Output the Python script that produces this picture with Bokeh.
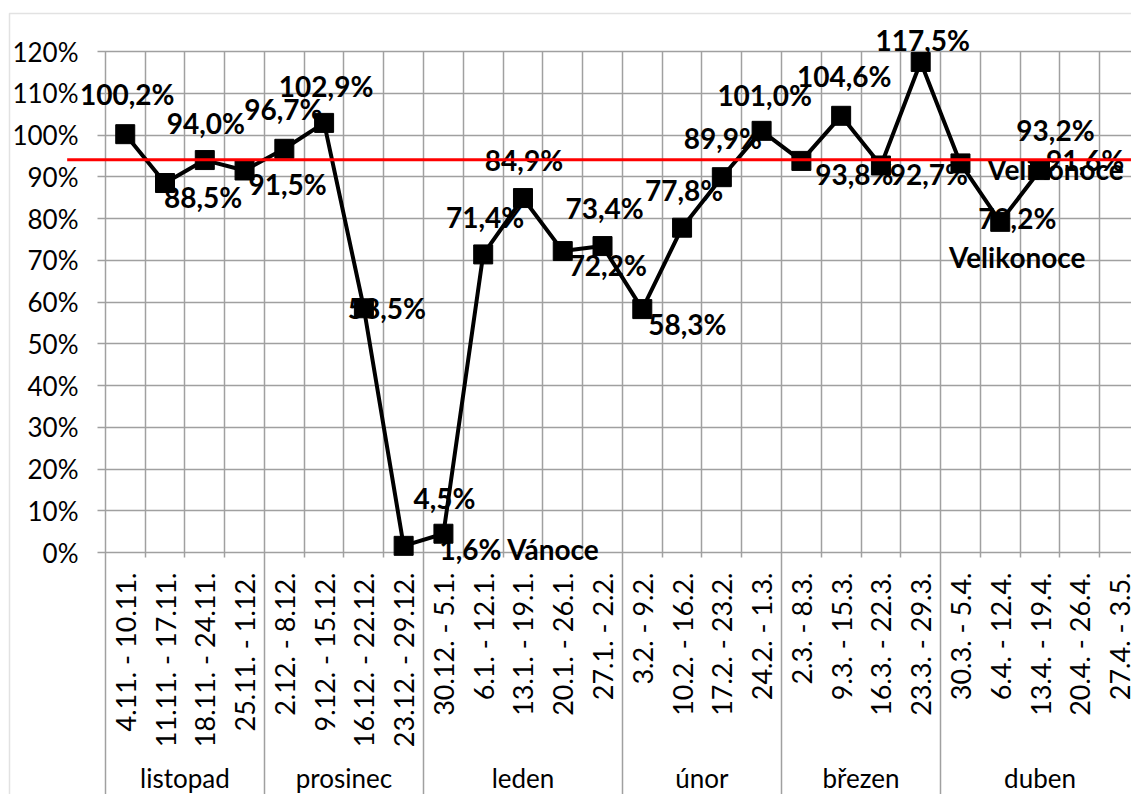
import math
from bokeh.plotting import figure
from bokeh.models import (ColumnDataSource, Range1d, FixedTicker, PrintfTickFormatter,
                          Grid, BoxAnnotation)
from bokeh.core.properties import value
from bokeh.embed import file_html
from bokeh.resources import INLINE

# ---------------- data ----------------
months = ["listopad", "prosinec", "leden", "únor", "březen", "duben"]
weeks_per_month = [4, 4, 5, 4, 4, 5]
weeks = ["4.11. - 10.11.", "11.11. - 17.11.", "18.11. - 24.11.", "25.11. - 1.12.",
         "2.12. - 8.12.", "9.12. - 15.12.", "16.12. - 22.12.", "23.12. - 29.12.",
         "30.12. - 5.1.", "6.1. - 12.1.", "13.1. - 19.1.", "20.1. - 26.1.", "27.1. - 2.2.",
         "3.2. - 9.2.", "10.2. - 16.2.", "17.2. - 23.2.", "24.2. - 1.3.",
         "2.3. - 8.3.", "9.3. - 15.3.", "16.3. - 22.3.", "23.3. - 29.3.",
         "30.3. - 5.4.", "6.4. - 12.4.", "13.4. - 19.4.", "20.4. - 26.4.", "27.4. - 3.5."]
values = [100.2, 88.5, 94.0, 91.5, 96.7, 102.9, 58.5, 1.6, 4.5, 71.4, 84.9, 72.2, 73.4,
          58.3, 77.8, 89.9, 101.0, 93.8, 104.6, 92.7, 117.5, 93.2, 79.2, 91.6]
notes = {7: ("Vánoce", " "), 21: ("Velikonoce", "\n"), 22: ("Velikonoce", "\n")}
target = 94.1
y_ticks = list(range(0, 121, 10))

# ---------------- label placement (style, px) ----------------
label_dx = [2, 38, 1, 43, -1, 2, 23, 116, 1, 2, 1, 45, 2, 45, 2, 1, 3, 53, 3, 48, 2, 95, 17, 45]
label_dy = [-40, 14, -37, 14, -40, -37, 0, 3, -36, -37, -38, 14, -38, 15, -38, -39, -36, 13,
            -40, 9, -22, -14, 16, -10]

GRID = "#a0a0a0"
FONT = "Lato"

def fmt(v):
    return f"{v:.1f}".replace(".", ",") + "%"

labels = []
for i, v in enumerate(values):
    t = fmt(v)
    if i in notes:
        note, sep = notes[i]
        t = t + sep + note
    labels.append(t)

src = ColumnDataSource(dict(x=list(range(len(values))), y=values, text=labels,
                            dx=label_dx, dy=label_dy))

# month geometry
bounds = [-0.5]
for n in weeks_per_month:
    bounds.append(bounds[-1] + n)
month_centers = [(bounds[k] + bounds[k + 1]) / 2 for k in range(len(months))]
week_bounds = [k - 0.5 for k in range(len(weeks) + 1) if (k - 0.5) not in bounds]

p = figure(width=1131, height=794, output_backend="svg", toolbar_location=None,
           x_range=Range1d(-3.0105, 25.3), y_range=Range1d(-57.96, 131.02),
           min_border_left=5, min_border_top=5, min_border_right=0, min_border_bottom=0)
p.outline_line_color = None
p.background_fill_color = "white"
p.border_fill_color = "white"

p.xaxis.visible = False
p.xgrid.visible = False

ya = p.yaxis[0]
ya.ticker = FixedTicker(ticks=y_ticks)
ya.formatter = PrintfTickFormatter(format="%d%%")
ya.axis_line_color = None
ya.major_tick_line_color = None
ya.minor_tick_line_color = None
ya.major_tick_out = 0
ya.major_tick_in = 0
ya.major_label_standoff = -73
ya.major_label_text_font = FONT
ya.major_label_text_font_size = "26px"
ya.major_label_text_color = "black"

p.ygrid.grid_line_color = GRID
p.ygrid.grid_line_width = 1.5
p.ygrid.cross_bounds = (-0.7, 26)

wg = Grid(dimension=0, ticker=FixedTicker(ticks=week_bounds), cross_bounds=(-1.2, 120),
          grid_line_color=GRID, grid_line_width=1.5)
mg = Grid(dimension=0, ticker=FixedTicker(ticks=bounds), cross_bounds=(-70, 120),
          grid_line_color=GRID, grid_line_width=1.5)
p.add_layout(wg)
p.add_layout(mg)

# outer chart border
p.add_layout(BoxAnnotation(left=-2.91, right=27, top=129.1, bottom=-80,
                           fill_alpha=0, line_color=GRID, line_width=1.5))

# category labels
wsrc = ColumnDataSource(dict(x=list(range(len(weeks))), y=[-4.8] * len(weeks), text=weeks))
p.text(x="x", y="y", text="text", source=wsrc, angle=math.pi / 2,
       text_align="right", text_baseline="middle", text_font=value(FONT),
       text_font_size="27px", text_color="black")
msrc = ColumnDataSource(dict(x=month_centers, y=[-54.1] * len(months), text=months))
p.text(x="x", y="y", text="text", source=msrc, text_align="center",
       text_baseline="middle", text_font=value(FONT), text_font_size="26px",
       text_color="black")

# series
p.line(x="x", y="y", source=src, line_color="black", line_width=4)
p.scatter(x="x", y="y", source=src, marker="square", size=19, fill_color="black",
          line_color="black")
p.text(x="x", y="y", text="text", source=src, x_offset="dx", y_offset="dy",
       text_align="center", text_baseline="middle", text_font=value(FONT),
       text_font_style="bold", text_font_size="28px", text_color="black",
       text_line_height=1.15)

# target line
p.segment(x0=[-1.46], x1=[26], y0=[target], y1=[target], line_color="#ff0000", line_width=3)

open("out.html", "w").write(file_html(p, INLINE))
